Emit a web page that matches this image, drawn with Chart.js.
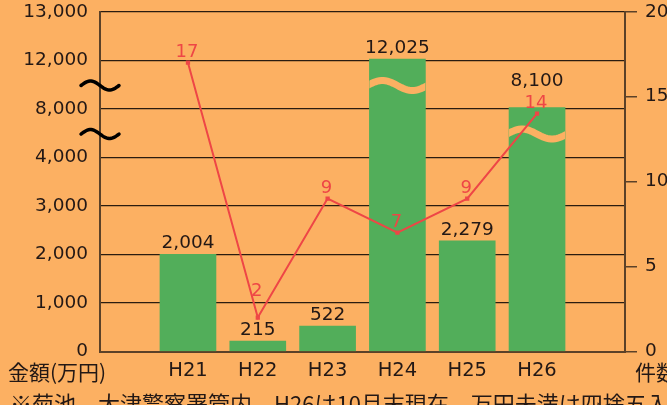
<!DOCTYPE html>
<html>
<head>
<meta charset="utf-8">
<script src="https://cdn.jsdelivr.net/npm/chart.js@4"></script>
<style>
  html, body { margin: 0; padding: 0; background: #FCB062; }
  #wrap { width: 667px; height: 405px; position: relative; overflow: hidden; }
</style>
</head>
<body>
<div id="wrap"><canvas id="c" width="667" height="405"></canvas></div>
<script>
// ---- data ----
const categories = ['H21', 'H22', 'H23', 'H24', 'H25', 'H26'];
const amounts = [2004, 215, 522, 12025, 2279, 8100];      // 金額（万円）
const counts = [17, 2, 9, 7, 9, 14];                       // 件数
const amountTicks = [0, 1000, 2000, 3000, 4000, 8000, 12000, 13000];
const countTicks = [0, 5, 10, 15, 20];
const amountTitle = '金額(万円)';
const countTitle = '件数';
const noteText = '※菊池、大津警察署管内　H26は10月末現在　万円未満は四捨五入';

// ---- styles ----
const BG = '#FCB062';
const GREEN = '#52AE5A';
const RED = '#EE4646';
const INK = '#231815';
const AXIS = '#5B4128';
const FONT = '"DejaVu Sans", "Noto Sans CJK JP", sans-serif';
const JFONT = '"Noto Sans CJK JP", "DejaVu Sans", sans-serif';

// broken-axis mapping: amount -> position along tick index
function toAxis(v) {
  for (let i = 0; i < amountTicks.length - 1; i++) {
    const a = amountTicks[i], b = amountTicks[i + 1];
    if (v <= b || i === amountTicks.length - 2) return i + (v - a) / (b - a);
  }
}
const baseStep = amountTicks[1] - amountTicks[0];
const breaks = [];
for (let i = 0; i < amountTicks.length - 1; i++) {
  if (amountTicks[i + 1] - amountTicks[i] !== baseStep && i + 1 < amountTicks.length - 1) breaks.push(i + 0.5);
}

function tilde(ctx, cx, cy, w, amp) {
  ctx.beginPath();
  const n = 30;
  for (let k = 0; k <= n; k++) {
    const t = k / n;
    const x = cx - w / 2 + t * w;
    const y = cy - amp * Math.sin(2 * Math.PI * t);
    if (k === 0) ctx.moveTo(x, y); else ctx.lineTo(x, y);
  }
  ctx.stroke();
}

const decor = {
  id: 'decor',
  afterDatasetDraw(chart, args) {
    if (args.index !== 0) return;
    const ctx = chart.ctx;
    const ys = chart.scales.y;
    const meta = chart.getDatasetMeta(0);
    meta.data.forEach((bar, i) => {
      const top = toAxis(amounts[i]);
      const below = breaks.filter(b => b < top);
      if (!below.length) return;
      const b = Math.max(...below);
      const cy = ys.getPixelForValue(b) + 1;
      const half = bar.width / 2;
      ctx.save();
      ctx.beginPath();
      ctx.rect(bar.x - half, bar.y, bar.width, bar.base - bar.y);
      ctx.clip();
      ctx.strokeStyle = BG;
      ctx.lineWidth = 7;
      tilde(ctx, bar.x, cy, bar.width + 4, 5);
      ctx.restore();
    });
  },
  afterDraw(chart) {
    const ctx = chart.ctx;
    const ys = chart.scales.y;
    const ca = chart.chartArea;
    ctx.save();
    // axis break marks
    ctx.strokeStyle = '#000';
    ctx.lineWidth = 3.5;
    ctx.lineCap = 'round';
    breaks.forEach(b => tilde(ctx, ca.left, ys.getPixelForValue(b) + 1, 38, 4.5));

    const barMeta = chart.getDatasetMeta(0);
    const lineMeta = chart.getDatasetMeta(1);
    const lift = [0, 16, 0, 0, 0, 0];
    // count labels (red)
    ctx.font = '18px ' + FONT;
    ctx.textAlign = 'center';
    ctx.textBaseline = 'alphabetic';
    ctx.fillStyle = RED;
    const redTops = [];
    lineMeta.data.forEach((pt, i) => {
      const base = pt.y - 6 - lift[i];
      ctx.fillText(String(counts[i]), pt.x - 1, base);
      redTops.push({ base, top: base - 14, x: pt.x });
    });
    // amount labels (black)
    ctx.fillStyle = INK;
    ctx.font = '18.5px ' + FONT;
    barMeta.data.forEach((bar, i) => {
      let base = bar.y - 6;
      const r = redTops[i];
      if (r && r.base > base - 14 && r.top < base) base = r.top - 8;
      ctx.fillText(amounts[i].toLocaleString('en-US'), bar.x, base);
    });
    // titles & note
    ctx.font = '21px ' + JFONT;
    ctx.textBaseline = 'middle';
    ctx.textAlign = 'left';
    ctx.fillText(amountTitle, 8, 372);
    ctx.fillText(countTitle, 635, 372);
    ctx.font = '22px ' + JFONT;
    ctx.textBaseline = 'top';
    ctx.fillText(noteText, 10, 393);
    ctx.restore();
  }
};

function noPad(s) { s.paddingTop = 0; s.paddingBottom = 0; }

new Chart(document.getElementById('c'), {
  data: {
    datasets: [
      {
        type: 'bar',
        data: amounts.map((v, i) => ({ x: i, y: toAxis(v) })),
        backgroundColor: GREEN,
        barThickness: 56,
        yAxisID: 'y',
        order: 1
      },
      {
        type: 'line',
        data: counts.map((v, i) => ({ x: i, y: v })),
        borderColor: RED,
        borderWidth: 2,
        backgroundColor: RED,
        pointStyle: 'rect',
        pointRadius: 3,
        pointBackgroundColor: RED,
        pointBorderWidth: 0,
        tension: 0,
        yAxisID: 'y2',
        order: 0
      }
    ]
  },
  options: {
    responsive: false,
    animation: false,
    events: [],
    layout: { padding: { top: 11.7, left: 0, right: 0, bottom: 0 } },
    plugins: { legend: { display: false }, tooltip: { enabled: false } },
    scales: {
      x: {
        type: 'linear',
        offset: false,
        min: -1.26,
        max: 6.26,
        afterBuildTicks(s) { s.ticks = categories.map((_, i) => ({ value: i })); },
        afterFit(s) { s.height = 53.5; s.paddingLeft = 0; s.paddingRight = 0; },
        grid: { display: false, drawTicks: false, offset: false },
        border: { display: true, color: AXIS, width: 2 },
        ticks: {
          color: INK, padding: 8, autoSkip: false, maxRotation: 0,
          font: { family: FONT, size: 19.5 },
          callback: v => categories[v]
        }
      },
      y: {
        type: 'linear',
        position: 'left',
        min: 0,
        max: amountTicks.length - 1,
        afterBuildTicks(s) { s.ticks = amountTicks.map((_, i) => ({ value: i })); },
        afterFit(s) { s.width = 100; noPad(s); },
        grid: { color: '#2a1c10', lineWidth: 1.3, drawTicks: false },
        border: { display: true, color: AXIS, width: 2 },
        ticks: {
          color: INK, padding: 12,
          font: { family: FONT, size: 18.5 },
          callback: (v) => amountTicks[v] !== undefined ? amountTicks[v].toLocaleString('en-US') : ''
        }
      },
      y2: {
        type: 'linear',
        position: 'right',
        min: countTicks[0],
        max: countTicks[countTicks.length - 1],
        afterBuildTicks(s) { s.ticks = countTicks.map(v => ({ value: v })); },
        afterFit(s) { s.width = 42; noPad(s); },
        grid: { drawOnChartArea: false, drawTicks: true, tickLength: 12, color: AXIS, lineWidth: 1.5 },
        border: { display: true, color: AXIS, width: 2 },
        ticks: {
          color: INK, padding: 8,
          font: { family: FONT, size: 18.5 },
          callback: v => String(v)
        }
      }
    }
  },
  plugins: [decor]
});
</script>
</body>
</html>
